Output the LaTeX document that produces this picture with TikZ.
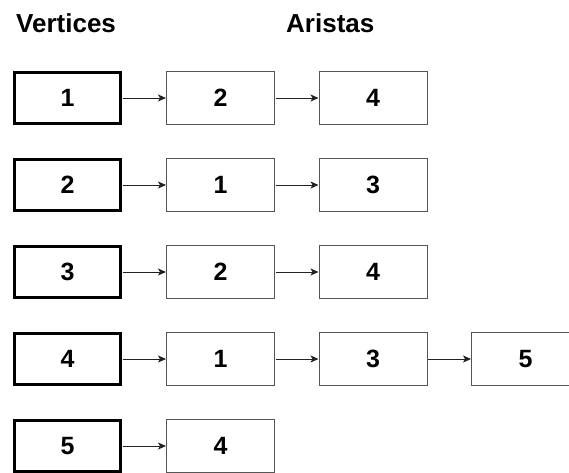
\documentclass[tikz,border=0pt]{standalone}
\usepackage{fontspec}
\setmainfont{Liberation Sans}
\usetikzlibrary{arrows.meta}
\definecolor{edgegray}{HTML}{555555}
\definecolor{arrowdark}{HTML}{222222}
\begin{document}
\begin{tikzpicture}[x=1pt,y=-1pt,
  numfont/.style={font=\fontsize{25}{25}\selectfont\bfseries},
  vbox/.style={draw=black, line width=3pt, minimum width=106pt, minimum height=51pt, inner sep=0pt, numfont},
  ebox/.style={draw=edgegray, line width=1pt, minimum width=108pt, minimum height=53pt, inner sep=0pt, numfont},
  link/.style={draw=arrowdark, line width=1pt, -{Stealth[length=8pt,width=7pt,inset=2pt]}, shorten <=0.5pt},
  head/.style={anchor=base west, inner sep=0pt, font=\fontsize{26}{26}\selectfont\bfseries}]
\clip (0,0) rectangle (569,472);
\fill[white] (0,0) rectangle (569,472);
\node[head] (hv) at (16,32) {Vertices};
\node[head] (ha) at (286,32) {Aristas};
% vertices
\node[vbox] (v1) at (67.5,98) {1};
\node[vbox] (v2) at (67.5,185) {2};
\node[vbox] (v3) at (67.5,272) {3};
\node[vbox] (v4) at (67.5,359) {4};
\node[vbox] (v5) at (67.5,446) {5};
% edges
\node[ebox] (e11) at (220.5,98) {2};
\node[ebox] (e12) at (373,98) {4};
\node[ebox] (e21) at (220.5,185) {1};
\node[ebox] (e22) at (373,185) {3};
\node[ebox] (e31) at (220.5,272) {2};
\node[ebox] (e32) at (373,272) {4};
\node[ebox] (e41) at (220.5,359) {1};
\node[ebox] (e42) at (373,359) {3};
\node[ebox] (e43) at (525.5,359) {5};
\node[ebox] (e51) at (220.5,446) {4};
% connectors
\draw[link] (v1) -- (e11);
\draw[link] (e11) -- (e12);
\draw[link] (v2) -- (e21);
\draw[link] (e21) -- (e22);
\draw[link] (v3) -- (e31);
\draw[link] (e31) -- (e32);
\draw[link] (v4) -- (e41);
\draw[link] (e41) -- (e42);
\draw[link] (e42) -- (e43);
\draw[link] (v5) -- (e51);
\end{tikzpicture}
\end{document}
